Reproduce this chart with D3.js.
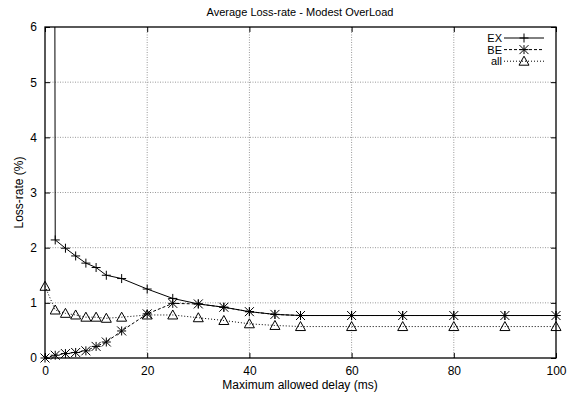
<!DOCTYPE html>
<html>
<head>
<meta charset="UTF-8">
<title>Average Loss-rate</title>
<script src="https://cdn.jsdelivr.net/npm/d3@7"></script>
<style>
  body { margin: 0; background: #fff; }
  text { font-family: "Liberation Sans", Arial, sans-serif; fill: #000; }
</style>
</head>
<body>
<div id="chart"></div>
<script>
// data
const exDelay = [1, 2, 4, 6, 8, 10, 12, 15, 20, 25, 30, 35, 40, 45, 50, 60, 70, 80, 90, 100]
const exLoss = [60, 2.14, 1.99, 1.85, 1.72, 1.64, 1.5, 1.44, 1.25, 1.08, 0.98, 0.92, 0.84, 0.79, 0.77, 0.77, 0.77, 0.77, 0.77, 0.77]

const beDelay = [0, 2, 4, 6, 8, 10, 12, 15, 20, 25, 30, 35, 40, 45, 50, 60, 70, 80, 90, 100]
const beLoss = [0, 0.05, 0.08, 0.1, 0.13, 0.21, 0.29, 0.49, 0.8, 0.99, 0.98, 0.92, 0.84, 0.79, 0.77, 0.77, 0.77, 0.77, 0.77, 0.77]

const allDelay = [0, 2, 4, 6, 8, 10, 12, 15, 20, 25, 30, 35, 40, 45, 50, 60, 70, 80, 90, 100]
const allLoss = [1.3, 0.87, 0.81, 0.78, 0.74, 0.74, 0.72, 0.74, 0.78, 0.78, 0.73, 0.68, 0.62, 0.59, 0.57, 0.57, 0.57, 0.57, 0.57, 0.57]

const xTicks = [0, 20, 40, 60, 80, 100]
const yTicks = [0, 1, 2, 3, 4, 5, 6]

const series = [
  { name: 'EX', xs: exDelay, ys: exLoss, dash: null, marker: 'plus' },
  { name: 'BE', xs: beDelay, ys: beLoss, dash: '3,2', marker: 'star' },
  { name: 'all', xs: allDelay, ys: allLoss, dash: '1,2', marker: 'triangle' }
]

const W = 573, H = 394
const margin = { top: 27, right: 17, bottom: 36, left: 45 }
const width = W - margin.left - margin.right
const height = H - margin.top - margin.bottom

const svg = d3.select('#chart').append('svg')
  .attr('width', W).attr('height', H)

const g = svg.append('g')
  .attr('transform', 'translate(' + margin.left + ',' + margin.top + ')')

const x = d3.scaleLinear().domain([0, 100]).range([0, width])
const y = d3.scaleLinear().domain([0, 6]).range([height, 0])

// grid
g.append('g').selectAll('line').data(xTicks.slice(1, -1)).join('line')
  .attr('x1', d => x(d)).attr('x2', d => x(d))
  .attr('y1', 0).attr('y2', height)
  .attr('stroke', '#999').attr('stroke-width', 1).attr('stroke-dasharray', '1,1.5')
g.append('g').selectAll('line').data(yTicks.slice(1, -1)).join('line')
  .attr('x1', 0).attr('x2', width)
  .attr('y1', d => y(d)).attr('y2', d => y(d))
  .attr('stroke', '#999').attr('stroke-width', 1).attr('stroke-dasharray', '1,1.5')

// axes, ticks pointing inward and mirrored
const fmt = d3.format('d')
const xAxis = g.append('g').attr('transform', 'translate(0,' + height + ')')
  .call(d3.axisBottom(x).tickValues(xTicks).tickSize(-5).tickPadding(8).tickFormat(fmt))
const xAxisTop = g.append('g')
  .call(d3.axisTop(x).tickValues(xTicks).tickSize(-5).tickFormat(''))
const yAxis = g.append('g')
  .call(d3.axisLeft(y).tickValues(yTicks).tickSize(-5).tickPadding(8).tickFormat(fmt))
const yAxisRight = g.append('g').attr('transform', 'translate(' + width + ',0)')
  .call(d3.axisRight(y).tickValues(yTicks).tickSize(-5).tickFormat(''))
;[xAxis, xAxisTop, yAxis, yAxisRight].forEach(a => {
  a.select('.domain').remove()
  a.selectAll('text').attr('font-size', 12).attr('font-family', '"Liberation Sans", Arial, sans-serif')
})

g.append('rect').attr('width', width).attr('height', height)
  .attr('fill', 'none').attr('stroke', '#000').attr('stroke-width', 1.3)

// clip
g.append('clipPath').attr('id', 'clip')
  .append('rect').attr('width', width).attr('height', height)

const line = d3.line().x(d => x(d[0])).y(d => y(d[1]))

function marker(sel, type) {
  const s = 4.5
  if (type === 'plus') {
    sel.append('path').attr('d', `M${-s},0H${s}M0,${-s}V${s}`)
  } else if (type === 'star') {
    sel.append('path').attr('d', `M${-s},0H${s}M0,${-s}V${s}M${-s},${-s}L${s},${s}M${-s},${s}L${s},${-s}`)
  } else {
    const t = 5
    sel.append('path').attr('d', `M0,${-t}L${t},${t * 0.8}L${-t},${t * 0.8}Z`)
  }
  sel.selectAll('path').attr('stroke', '#000').attr('stroke-width', 1).attr('fill', 'none')
}

const plot = g.append('g').attr('clip-path', 'url(#clip)')
series.forEach(s => {
  const pts = s.xs.map((v, i) => [v, s.ys[i]])
  plot.append('path').datum(pts)
    .attr('d', line)
    .attr('fill', 'none').attr('stroke', '#000').attr('stroke-width', 1)
    .attr('stroke-dasharray', s.dash)
  pts.filter(p => p[1] <= 6).forEach(p => {
    const m = g.append('g').attr('transform', 'translate(' + x(p[0]) + ',' + y(p[1]) + ')')
    marker(m, s.marker)
  })
})

// legend
const legend = g.append('g').attr('transform', 'translate(' + (width - 54) + ',' + 11 + ')')
series.forEach((s, i) => {
  const row = legend.append('g').attr('transform', 'translate(0,' + (i * 11.6) + ')')
  row.append('text').attr('x', 0).attr('y', 4).attr('text-anchor', 'end')
    .attr('font-size', 11).text(s.name)
  row.append('line').attr('x1', 2).attr('x2', 42).attr('y1', 0).attr('y2', 0)
    .attr('stroke', '#000').attr('stroke-width', 1).attr('stroke-dasharray', s.dash)
  const m = row.append('g').attr('transform', 'translate(22,0)')
  marker(m, s.marker)
})

// titles
svg.append('text').attr('x', 300).attr('y', 16).attr('text-anchor', 'middle')
  .attr('font-size', 11).text('Average Loss-rate - Modest OverLoad')
svg.append('text').attr('x', 300).attr('y', 389).attr('text-anchor', 'middle')
  .attr('font-size', 12).text('Maximum allowed delay (ms)')
svg.append('text').attr('transform', 'translate(23,' + (margin.top + height / 2) + ') rotate(-90)')
  .attr('text-anchor', 'middle').attr('font-size', 12).text('Loss-rate (%)')
</script>
</body>
</html>
